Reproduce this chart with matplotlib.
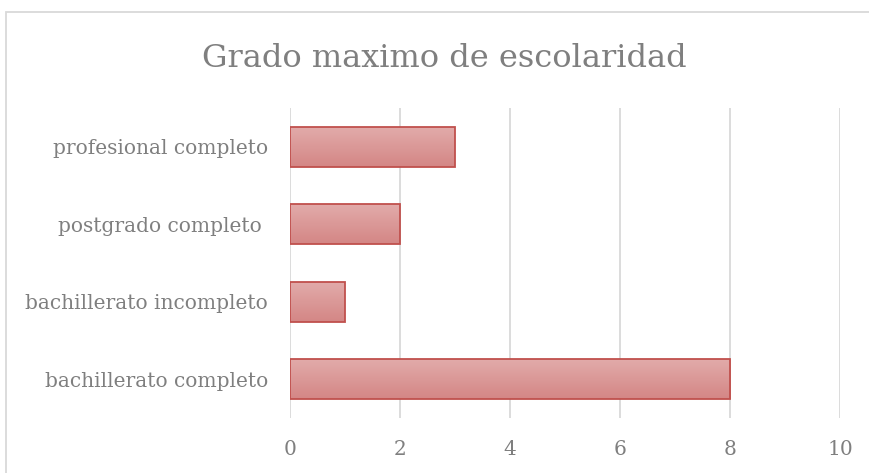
import numpy as np
import matplotlib
matplotlib.use('Agg')
import matplotlib.pyplot as plt
from matplotlib.patches import Rectangle

# data (bottom to top)
categories = ['bachillerato completo', 'bachillerato incompleto', 'postgrado completo ', 'profesional completo']
values = [8, 1, 2, 3]
xticks = [0, 2, 4, 6, 8, 10]

text_color = '#7f7f7f'
plt.rcParams['font.family'] = ['DejaVu Serif']

fig = plt.figure(figsize=(8.7, 4.73), dpi=100)
ax = fig.add_axes([290 / 870, 1 - 418 / 473, 550 / 870, 310 / 473])

y = np.arange(len(categories))
bars = ax.barh(y, values, height=0.52, color='none', edgecolor='#c0504d', linewidth=1.3, zorder=3)

# vertical gradient fill for each bar
grad = np.linspace(0, 1, 256).reshape(-1, 1)
cmap = matplotlib.colors.LinearSegmentedColormap.from_list('bar', ['#e2acab', '#d48685'])
for b in bars:
    x0, y0 = b.get_x(), b.get_y()
    w, h = b.get_width(), b.get_height()
    im = ax.imshow(grad, cmap=cmap, aspect='auto', extent=(x0, x0 + w, y0, y0 + h), zorder=2)
    im.set_clip_path(b)

ax.set_xlim(0, 10)
ax.set_ylim(-0.5, len(categories) - 0.5)
ax.set_xticks(xticks)
ax.set_yticks(y)
ax.set_yticklabels(categories)
ax.grid(axis='x', color='#d9d9d9', linewidth=1.3, zorder=0)
ax.set_axisbelow(True)
for s in ax.spines.values():
    s.set_visible(False)
ax.tick_params(axis='both', length=0, colors=text_color, labelsize=14.5)
ax.tick_params(axis='y', pad=16)
ax.tick_params(axis='x', pad=16)

fig.text(444 / 870, 1 - 67 / 473, 'Grado maximo de escolaridad', ha='center', va='baseline',
         fontsize=23, color=text_color)

# chart border
fig.patches.append(Rectangle((6 / 870, -0.05), 1.0, 1 - 11.5 / 473 + 0.05, transform=fig.transFigure,
                             fill=False, edgecolor='#d9d9d9', linewidth=1.3))

fig.savefig('out.png', dpi=100)
